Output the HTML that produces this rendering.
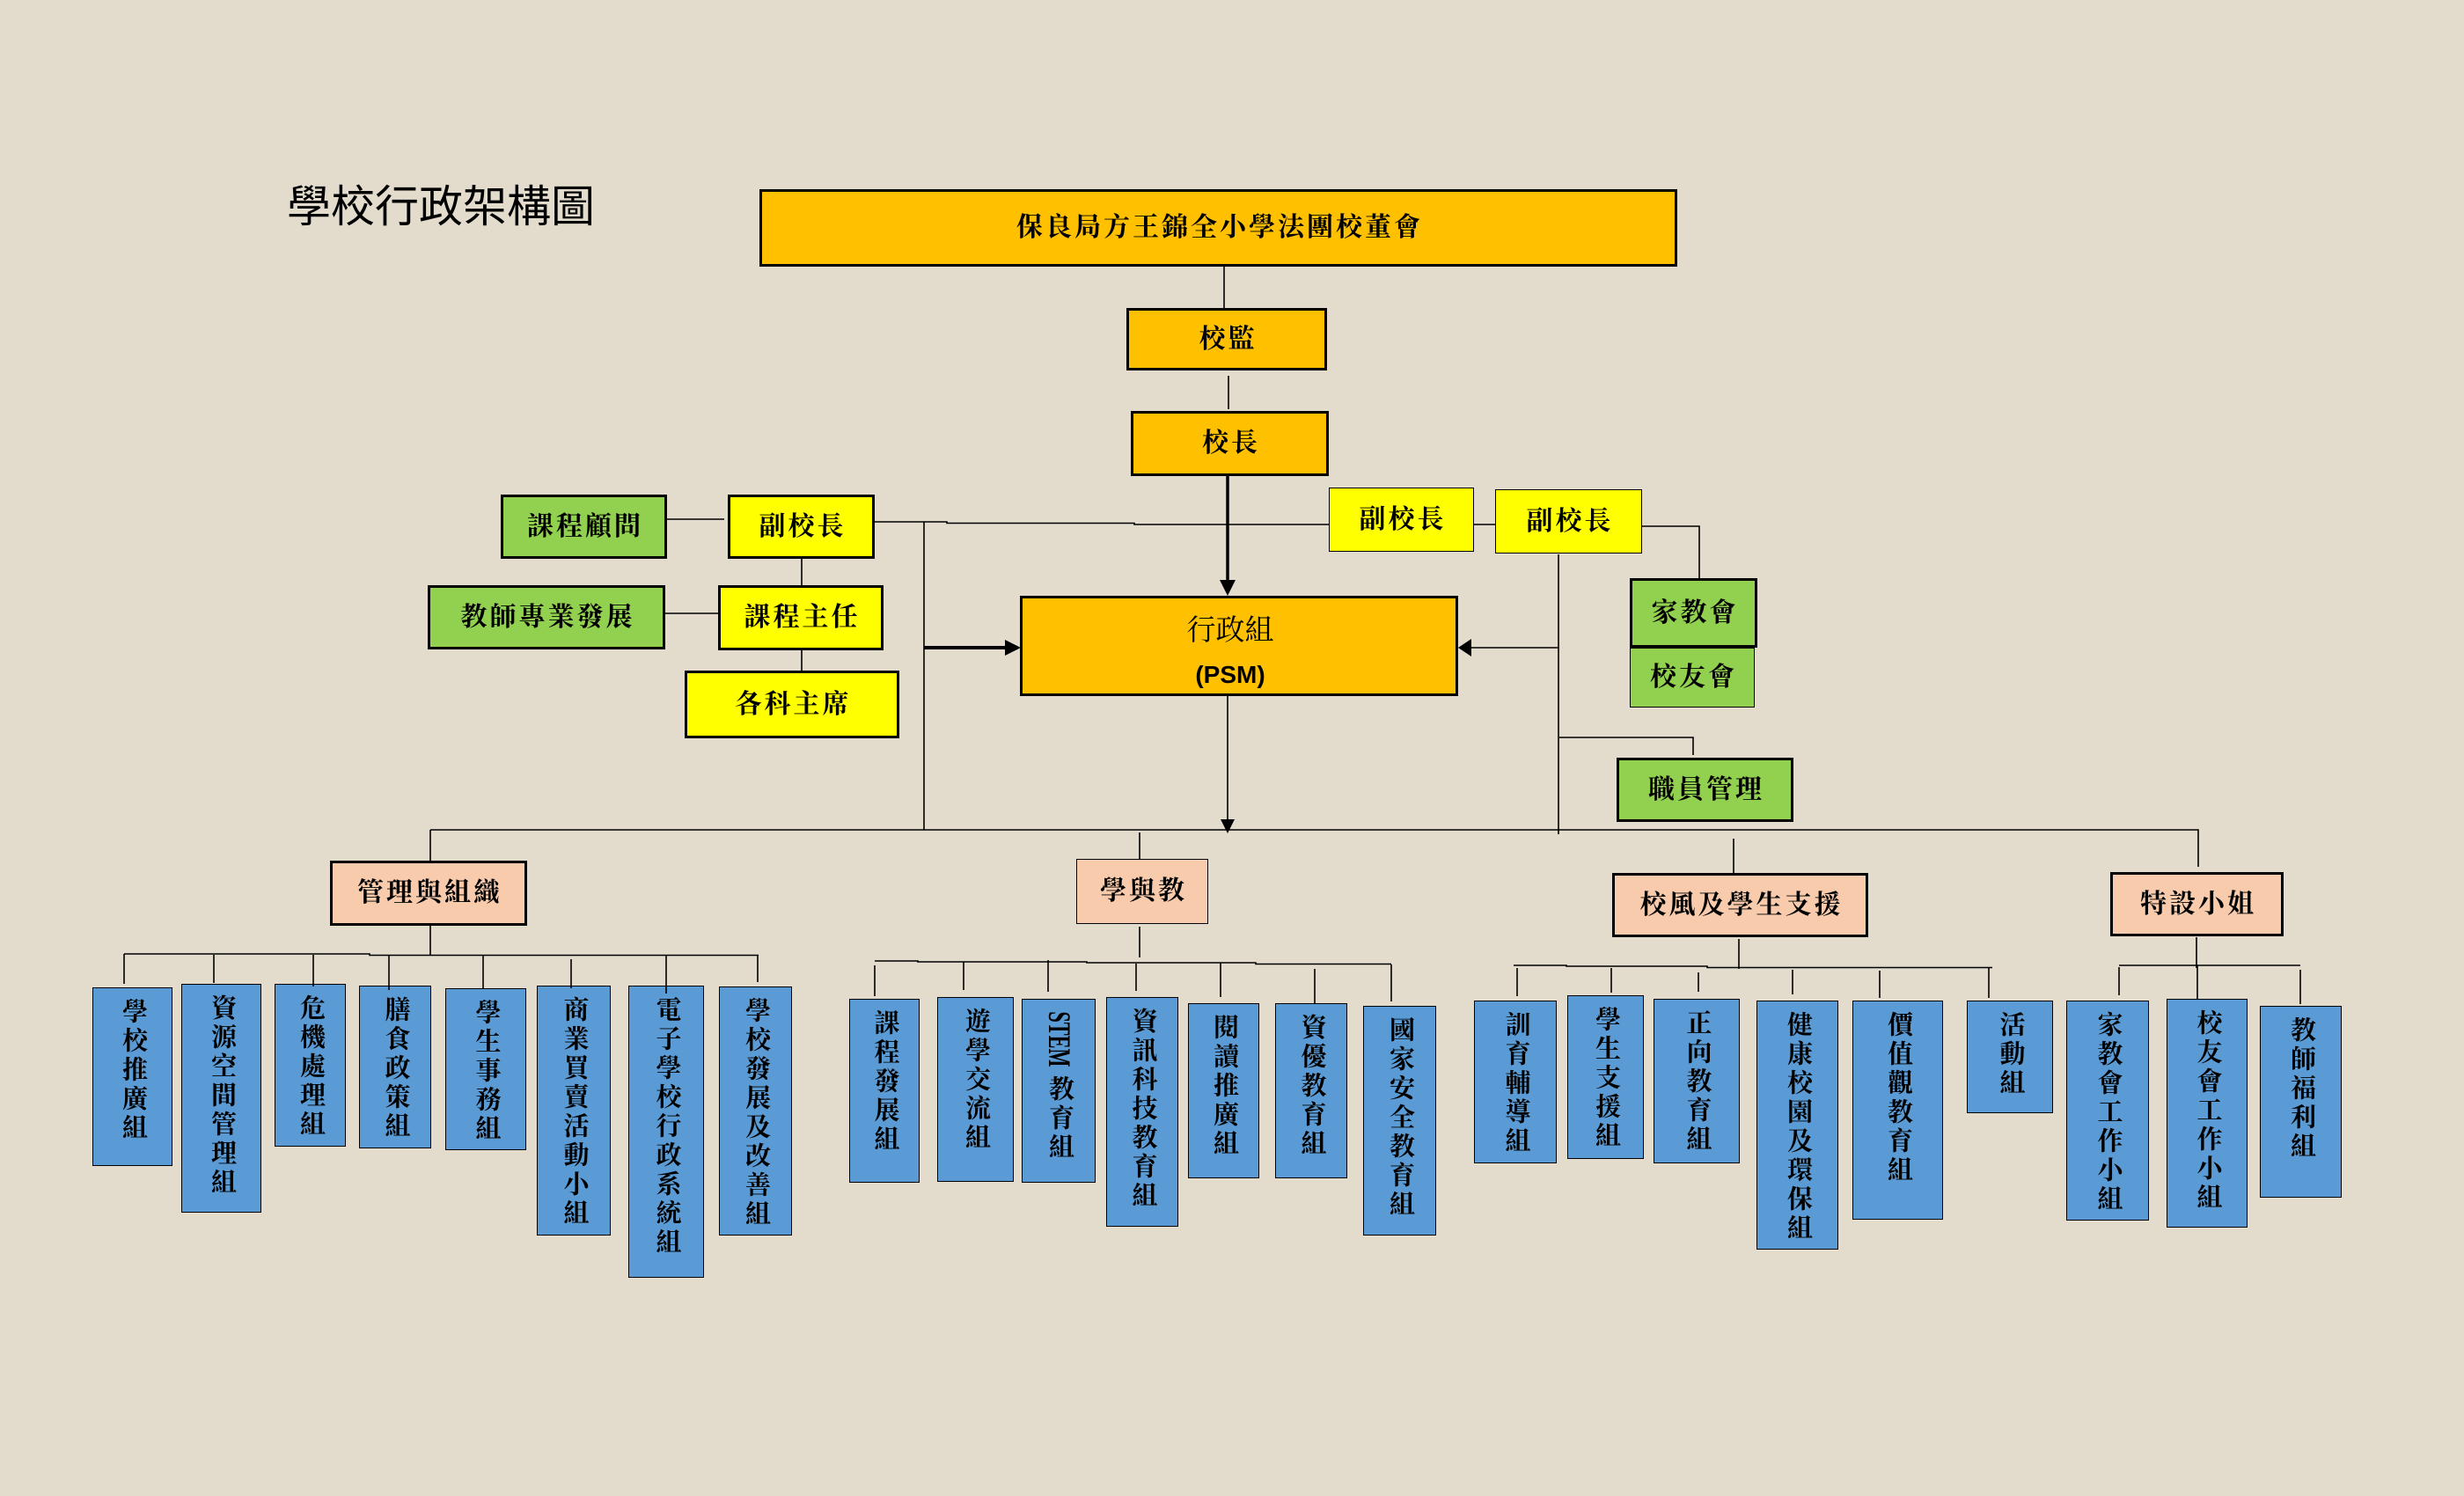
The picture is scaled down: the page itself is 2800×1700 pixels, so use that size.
<!DOCTYPE html>
<html>
<head>
<meta charset="utf-8">
<style>
html,body{margin:0;padding:0;}
body{width:2800px;height:1700px;position:relative;overflow:hidden;background:#e3dccd;}
.h{position:absolute;box-sizing:border-box;display:flex;align-items:center;justify-content:center;
   font-family:"Liberation Serif","Noto Serif CJK SC",serif;font-weight:700;font-size:30px;line-height:1;
   letter-spacing:3px;padding-left:3px;color:#000;}
.k{border:3px solid #000;}
.n{border:1.5px solid #000;}
.or{background:#FFC000;}
.ye{background:#FFFF00;}
.gr{background:#92D050;}
.pe{background:#F8CBAD;}
.v{position:absolute;box-sizing:border-box;background:#5B9BD5;border:1.5px solid #000;display:flex;
   justify-content:center;align-items:flex-start;padding-top:11px;}
.v span{writing-mode:vertical-rl;font-family:"Liberation Serif","Noto Serif CJK SC",serif;font-weight:700;
   font-size:29px;line-height:35px;letter-spacing:4px;color:#000;}
#title{position:absolute;left:326px;top:210px;font-family:"Liberation Sans","Noto Sans CJK TC",sans-serif;
   font-weight:400;font-size:50px;line-height:1;color:#000;letter-spacing:0px;white-space:nowrap;}
svg{position:absolute;left:0;top:0;}
</style>
</head>
<body>

<div id="title">學校行政架構圖</div>

<!-- top chain -->
<div class="h k or" style="left:863px;top:215px;width:1043px;height:88px;">保良局方王錦全小學法團校董會</div>
<div class="h k or" style="left:1280px;top:350px;width:228px;height:71px;">校監</div>
<div class="h k or" style="left:1285px;top:467px;width:225px;height:74px;">校長</div>

<!-- left group -->
<div class="h k gr" style="left:569px;top:562px;width:189px;height:73px;">課程顧問</div>
<div class="h k ye" style="left:827px;top:562px;width:167px;height:73px;">副校長</div>
<div class="h k gr" style="left:486px;top:665px;width:270px;height:73px;">教師專業發展</div>
<div class="h k ye" style="left:816px;top:665px;width:188px;height:74px;">課程主任</div>
<div class="h k ye" style="left:778px;top:762px;width:244px;height:77px;">各科主席</div>

<!-- PSM -->
<div class="k or" style="position:absolute;box-sizing:border-box;left:1159px;top:677px;width:498px;height:114px;">
  <div style="position:absolute;left:0;width:472px;top:17px;text-align:center;font-family:'Liberation Serif','Noto Serif CJK SC',serif;font-weight:400;font-size:33px;line-height:40px;">行政組</div>
  <div style="position:absolute;left:0;width:472px;top:70px;text-align:center;font-family:'Liberation Sans',sans-serif;font-weight:700;font-size:28px;line-height:34px;">(PSM)</div>
</div>

<!-- right group -->
<div class="h n ye" style="left:1510px;top:554px;width:165px;height:73px;">副校長</div>
<div class="h n ye" style="left:1699px;top:556px;width:167px;height:73px;">副校長</div>
<div class="h n gr" style="left:1852px;top:736px;width:142px;height:68px;">校友會</div>
<div class="h k gr" style="left:1852px;top:657px;width:145px;height:79px;">家教會</div>
<div class="h k gr" style="left:1837px;top:861px;width:201px;height:73px;">職員管理</div>

<!-- section heads -->
<div class="h k pe" style="left:375px;top:978px;width:224px;height:74px;">管理與組織</div>
<div class="h n pe" style="left:1223px;top:976px;width:150px;height:74px;">學與教</div>
<div class="h k pe" style="left:1832px;top:992px;width:291px;height:73px;">校風及學生支援</div>
<div class="h k pe" style="left:2398px;top:991px;width:197px;height:73px;">特設小姐</div>

<!-- blue boxes: 管理與組織 -->
<div class="v" style="left:105px;top:1122px;width:91px;height:203px;"><span>學校推廣組</span></div>
<div class="v" style="left:206px;top:1118px;width:91px;height:260px;"><span>資源空間管理組</span></div>
<div class="v" style="left:312px;top:1118px;width:81px;height:185px;"><span>危機處理組</span></div>
<div class="v" style="left:408px;top:1120px;width:82px;height:185px;"><span>膳食政策組</span></div>
<div class="v" style="left:506px;top:1123px;width:92px;height:184px;"><span>學生事務組</span></div>
<div class="v" style="left:610px;top:1120px;width:84px;height:284px;"><span>商業買賣活動小組</span></div>
<div class="v" style="left:714px;top:1120px;width:86px;height:332px;"><span>電子學校行政系統組</span></div>
<div class="v" style="left:817px;top:1121px;width:83px;height:283px;"><span>學校發展及改善組</span></div>

<!-- blue boxes: 學與教 -->
<div class="v" style="left:965px;top:1135px;width:80px;height:209px;"><span>課程發展組</span></div>
<div class="v" style="left:1065px;top:1133px;width:87px;height:210px;"><span>遊學交流組</span></div>
<div class="v" style="left:1161px;top:1135px;width:84px;height:209px;padding-top:0;">
  <div style="position:absolute;left:42px;top:45px;width:0;height:0;">
    <div style="position:absolute;left:-60px;top:-20px;width:120px;height:40px;text-align:center;font-family:'Liberation Serif',serif;font-weight:700;font-size:36px;line-height:40px;transform:rotate(90deg) scaleX(0.62);">STEM</div>
  </div>
  <span style="position:absolute;left:24px;top:86px;">教育組</span>
</div>
<div class="v" style="left:1257px;top:1133px;width:82px;height:261px;"><span>資訊科技教育組</span></div>
<div class="v" style="left:1350px;top:1140px;width:81px;height:199px;"><span>閱讀推廣組</span></div>
<div class="v" style="left:1449px;top:1140px;width:82px;height:199px;"><span>資優教育組</span></div>
<div class="v" style="left:1549px;top:1143px;width:83px;height:261px;"><span>國家安全教育組</span></div>

<!-- blue boxes: 校風及學生支援 -->
<div class="v" style="left:1675px;top:1137px;width:94px;height:185px;"><span>訓育輔導組</span></div>
<div class="v" style="left:1781px;top:1131px;width:87px;height:186px;"><span>學生支援組</span></div>
<div class="v" style="left:1879px;top:1135px;width:98px;height:187px;"><span>正向教育組</span></div>
<div class="v" style="left:1996px;top:1137px;width:93px;height:283px;"><span>健康校園及環保組</span></div>
<div class="v" style="left:2105px;top:1137px;width:103px;height:249px;"><span>價值觀教育組</span></div>
<div class="v" style="left:2235px;top:1137px;width:98px;height:128px;"><span>活動組</span></div>

<!-- blue boxes: 特設小姐 -->
<div class="v" style="left:2348px;top:1137px;width:94px;height:250px;"><span>家教會工作小組</span></div>
<div class="v" style="left:2462px;top:1135px;width:92px;height:260px;"><span>校友會工作小組</span></div>
<div class="v" style="left:2568px;top:1143px;width:93px;height:218px;"><span>教師福利組</span></div>

<svg width="2800" height="1700" viewBox="0 0 2800 1700">
<g stroke="#000" stroke-width="1.6" fill="none">
  <path d="M1391 303V350"/>
  <path d="M1396 427V465"/>
  <path d="M1395 541V662" stroke-width="3.5"/>
  <!-- left group -->
  <path d="M758 590H823"/>
  <path d="M911 635V665"/>
  <path d="M756 697H816"/>
  <path d="M911 739V762"/>
  <path d="M994 593H1076V594.5H1289V596H1510"/>
  <path d="M1050 593V943"/>
  <path d="M1050 736H1145" stroke-width="4"/>
  <!-- right group -->
  <path d="M1675 596H1699"/>
  <path d="M1866 598H1931V657"/>
  <path d="M1771 630V948"/>
  <path d="M1771 736H1672"/>
  <path d="M1772 838H1924V858"/>
  <!-- PSM down -->
  <path d="M1395 791V933"/>
  <!-- main bus -->
  <path d="M489 943H2498V985"/>
  <path d="M489 943V978"/>
  <path d="M1295 946V976"/>
  <path d="M1970 953V992"/>
  <!-- sub 管理與組織 -->
  <path d="M489 1052V1085"/>
  <path d="M141 1084H420V1085.5H862"/>
  <path d="M141 1084V1118"/>
  <path d="M243 1085V1117"/>
  <path d="M356 1085V1121"/>
  <path d="M442 1085V1125"/>
  <path d="M549 1085V1124"/>
  <path d="M649 1090V1123"/>
  <path d="M757 1086V1129"/>
  <path d="M861 1086V1116"/>
  <!-- sub 學與教 -->
  <path d="M1295 1053V1088"/>
  <path d="M994 1092H1043V1093H1235V1094H1427V1095.5H1581"/>
  <path d="M994 1097V1132"/>
  <path d="M1095 1093V1125"/>
  <path d="M1191 1091V1127"/>
  <path d="M1291 1095V1126"/>
  <path d="M1387 1094V1133"/>
  <path d="M1494 1101V1140"/>
  <path d="M1581 1096V1138"/>
  <!-- sub 校風 -->
  <path d="M1976 1067V1101"/>
  <path d="M1720 1097H1780V1098H1940V1099.5H2264"/>
  <path d="M1724 1100V1132"/>
  <path d="M1831 1100V1128"/>
  <path d="M1930 1105V1127"/>
  <path d="M2037 1102V1130"/>
  <path d="M2136 1103V1134"/>
  <path d="M2260 1100V1134"/>
  <!-- sub 特設 -->
  <path d="M2496 1065V1100"/>
  <path d="M2408 1097H2614"/>
  <path d="M2408 1099V1131"/>
  <path d="M2497 1097V1136"/>
  <path d="M2614 1102V1141"/>
</g>
<g fill="#000" stroke="none">
  <polygon points="1386,659 1404,659 1395,677"/>
  <polygon points="1142,727 1142,745 1160,736"/>
  <polygon points="1672,726 1672,746 1657,736"/>
  <polygon points="1387,931 1403,931 1395,947"/>
</g>
</svg>

</body>
</html>
